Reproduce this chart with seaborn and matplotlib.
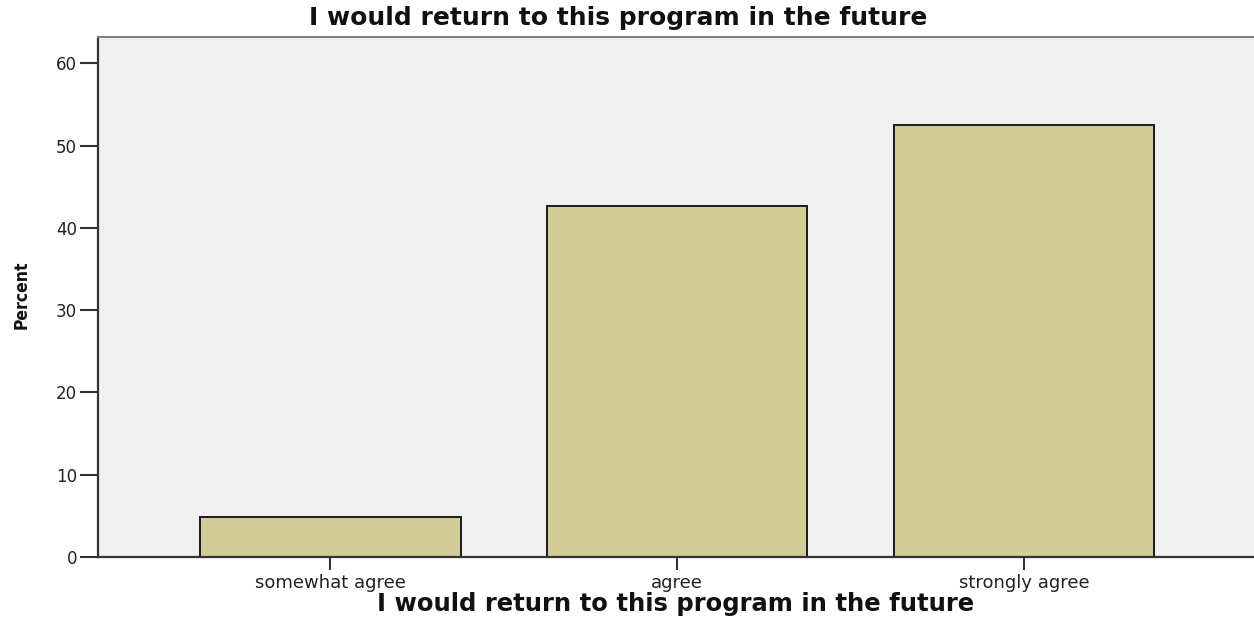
import matplotlib
matplotlib.use("Agg")
import matplotlib.pyplot as plt
import seaborn as sns
import pandas as pd

categories = ["somewhat agree", "agree", "strongly agree"]
percent = [4.9, 42.6, 52.5]
yticks = [0, 10, 20, 30, 40, 50, 60]
title = "I would return to this program in the future"

sns.set_theme(style="white")
plt.rcParams['font.family'] = ['DejaVu Sans']

df = pd.DataFrame({"cat": categories, "pct": percent})

W, H = 1254, 618
fig = plt.figure(figsize=(W/100, H/100), dpi=100)
L, R, T, B = 98, 1254, 37, 557
ax = fig.add_axes([L/W, 1 - B/H, (R - L)/W, (B - T)/H])
ax.set_facecolor("#F0F0F0")

sns.barplot(data=df, x="cat", y="pct", ax=ax, color="#D2CD96", width=0.752,
            edgecolor="#1a1a1a", linewidth=1.4, saturation=1)

ax.set_xlim(-0.669, 2.663)
ax.set_ylim(0, 63.2)
ax.set_yticks(yticks)
ax.set_yticklabels([str(t) for t in yticks], fontsize=12, color="#222222")
ax.tick_params(axis="y", direction="out", length=13, width=1.5, color="#333333", pad=2, left=True)
ax.tick_params(axis="x", direction="out", length=9, width=1.5, color="#333333", pad=3, bottom=True,
               labelsize=13, labelcolor="#222222")

for s in ["left", "bottom"]:
    ax.spines[s].set_color("#333333")
    ax.spines[s].set_linewidth(1.6)
ax.spines["top"].set_color("#808080")
ax.spines["top"].set_linewidth(1.5)
ax.spines["right"].set_visible(False)

ax.set_xlabel(title, fontsize=17.5, fontweight="bold", color="#111111")
ax.xaxis.label.set_va("center")
ax.xaxis.set_label_coords(0.5, (B - 604)/(B - T))

ax.set_ylabel("Percent", fontsize=12.5, fontweight="bold", fontstretch="condensed", color="#111111")
ax.yaxis.label.set_va("center")
ax.yaxis.set_label_coords((22 - L)/(R - L), (B - 295)/(B - T))

fig.text(618/W, 1 - 18/H, title, fontsize=18, fontweight="bold", ha="center", va="center", color="#111111")

fig.savefig("out.png", dpi=100)
